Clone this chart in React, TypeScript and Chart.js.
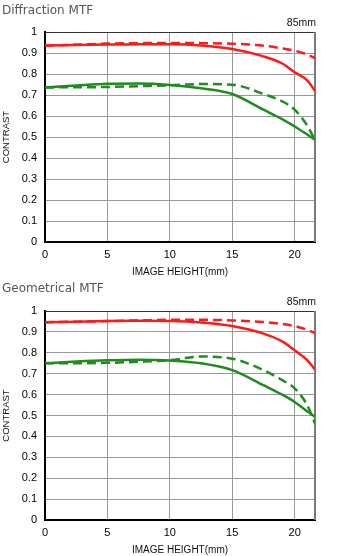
import React, { useEffect, useRef } from 'react';
import { Chart, registerables } from 'chart.js';

Chart.register(...registerables);

// Image height (mm) sample positions
const imageHeights = [0, 2.5, 5, 7.5, 10, 12.5, 15, 17.5, 19, 20, 21, 21.63];
const xTickValues = [0, 5, 10, 15, 20];
const focalLabel = '85mm';

// Diffraction MTF
const diffRedSolid = [0.936, 0.938, 0.94, 0.942, 0.942, 0.936, 0.919, 0.884, 0.85, 0.808, 0.77, 0.72];
const diffRedDashed = [0.935, 0.94, 0.945, 0.947, 0.948, 0.947, 0.944, 0.935, 0.922, 0.911, 0.893, 0.876];
const diffGreenSolid = [0.736, 0.745, 0.753, 0.755, 0.748, 0.732, 0.705, 0.63, 0.585, 0.55, 0.512, 0.487];
const diffGreenDashed = [0.736, 0.737, 0.738, 0.742, 0.746, 0.752, 0.749, 0.705, 0.67, 0.63, 0.555, 0.485];

// Geometrical MTF
const geoRedSolid = [0.946, 0.949, 0.952, 0.953, 0.952, 0.945, 0.928, 0.892, 0.855, 0.812, 0.765, 0.72];
const geoRedDashed = [0.946, 0.949, 0.952, 0.955, 0.958, 0.958, 0.955, 0.947, 0.938, 0.928, 0.91, 0.895];
const geoGreenSolid = [0.75, 0.758, 0.764, 0.767, 0.763, 0.75, 0.717, 0.645, 0.6, 0.565, 0.52, 0.494];
const geoGreenDashed = [0.75, 0.75, 0.752, 0.757, 0.765, 0.782, 0.772, 0.717, 0.669, 0.63, 0.55, 0.462];

const RED = '#ff1a1a';
const GREEN = '#1e8c1e';

type Series = { values: number[]; color: string; dashed: boolean };

function toPoints(values: number[]) {
  return values.map((v, i) => ({ x: imageHeights[i], y: v }));
}

function formatY(v: number) {
  if (Math.abs(v - 1) < 1e-9) return '1';
  if (Math.abs(v) < 1e-9) return '0';
  return v.toFixed(1);
}

function MtfChart({ title, series, top, height, topPad }: { title: string; series: Series[]; top: number; height: number; topPad: number }) {
  const ref = useRef<HTMLCanvasElement>(null);
  useEffect(() => {
    if (!ref.current) return;
    const decor = {
      id: 'decor',
      beforeDatasetsDraw(chart: any) {
        const { ctx, chartArea: a } = chart;
        ctx.save();
        ctx.strokeStyle = '#333';
        ctx.lineWidth = 1;
        ctx.beginPath();
        ctx.moveTo(a.left, a.top + 0.5);
        ctx.lineTo(a.right, a.top + 0.5);
        ctx.stroke();
        ctx.strokeStyle = '#7a7a7a';
        ctx.lineWidth = 2;
        ctx.beginPath();
        ctx.moveTo(a.right, a.top);
        ctx.lineTo(a.right, a.bottom);
        ctx.stroke();
        ctx.restore();
      },
      afterDraw(chart: any) {
        const { ctx, chartArea: a } = chart;
        ctx.save();
        ctx.fillStyle = '#555';
        ctx.font = '12px "DejaVu Sans"';
        ctx.textAlign = 'left';
        ctx.textBaseline = 'alphabetic';
        ctx.fillText(title, 2, 13.5);
        ctx.fillStyle = '#111';
        ctx.font = '10.5px "Liberation Sans"';
        ctx.textAlign = 'right';
        ctx.fillText(focalLabel, a.right + 1, a.top - 6);
        ctx.restore();
      },
    };
    const chart = new Chart(ref.current, {
      type: 'line',
      data: {
        datasets: series.map((s) => ({
          data: toPoints(s.values),
          borderColor: s.color,
          borderWidth: 2.5,
          borderDash: s.dashed ? [9, 5] : [],
          pointRadius: 0,
          fill: false,
          cubicInterpolationMode: 'monotone' as const,
        })),
      },
      options: {
        animation: false,
        responsive: false,
        layout: { padding: { top: topPad, right: 47, left: 0, bottom: 0 } },
        plugins: { legend: { display: false }, tooltip: { enabled: false }, title: { display: false } },
        scales: {
          x: {
            type: 'linear',
            min: 0,
            max: 21.63,
            afterBuildTicks: (scale: any) => {
              scale.ticks = xTickValues.map((v) => ({ value: v }));
            },
            afterFit: (scale: any) => {
              scale.height = 36;
            },
            grid: { color: '#999', lineWidth: 1, drawTicks: false },
            border: { color: '#000', width: 2 },
            ticks: { color: '#000', font: { family: '"Liberation Sans"', size: 11 }, padding: 6, maxRotation: 0 },
            title: {
              display: true,
              text: 'IMAGE HEIGHT(mm)',
              color: '#111',
              font: { family: '"Liberation Sans"', size: 10, lineHeight: 1.2 },
              padding: { top: 0, bottom: 0 },
            },
          },
          y: {
            type: 'linear',
            min: 0,
            max: 1,
            afterFit: (scale: any) => {
              scale.width = 45;
            },
            grid: { color: '#999', lineWidth: 1, drawTicks: false },
            border: { color: '#000', width: 2 },
            ticks: {
              stepSize: 0.1,
              color: '#000',
              font: { family: '"Liberation Sans"', size: 11 },
              padding: 8,
              callback: (v: any) => formatY(Number(v)),
            },
            title: {
              display: true,
              text: 'CONTRAST',
              color: '#111',
              font: { family: '"Liberation Sans"', size: 9.5, lineHeight: 1.2 },
              padding: { top: 1, bottom: 0 },
            },
          },
        },
      },
      plugins: [decor],
    });
    return () => chart.destroy();
  }, []);
  return (
    <div style={{ position: 'absolute', left: 0, top, width: 362, height }}>
      <canvas ref={ref} width={362} height={height} style={{ display: 'block', width: 362, height }} />
    </div>
  );
}

export default function App() {
  return (
    <div style={{ position: 'absolute', left: 0, top: 0, width: 362, height: 556, background: '#fff' }}>
      <MtfChart
        title="Diffraction MTF"
        top={0}
        height={278}
        topPad={32}
        series={[
          { values: diffRedSolid, color: RED, dashed: false },
          { values: diffRedDashed, color: RED, dashed: true },
          { values: diffGreenSolid, color: GREEN, dashed: false },
          { values: diffGreenDashed, color: GREEN, dashed: true },
        ]}
      />
      <MtfChart
        title="Geometrical MTF"
        top={278}
        height={278}
        topPad={33}
        series={[
          { values: geoRedSolid, color: RED, dashed: false },
          { values: geoRedDashed, color: RED, dashed: true },
          { values: geoGreenSolid, color: GREEN, dashed: false },
          { values: geoGreenDashed, color: GREEN, dashed: true },
        ]}
      />
    </div>
  );
}
